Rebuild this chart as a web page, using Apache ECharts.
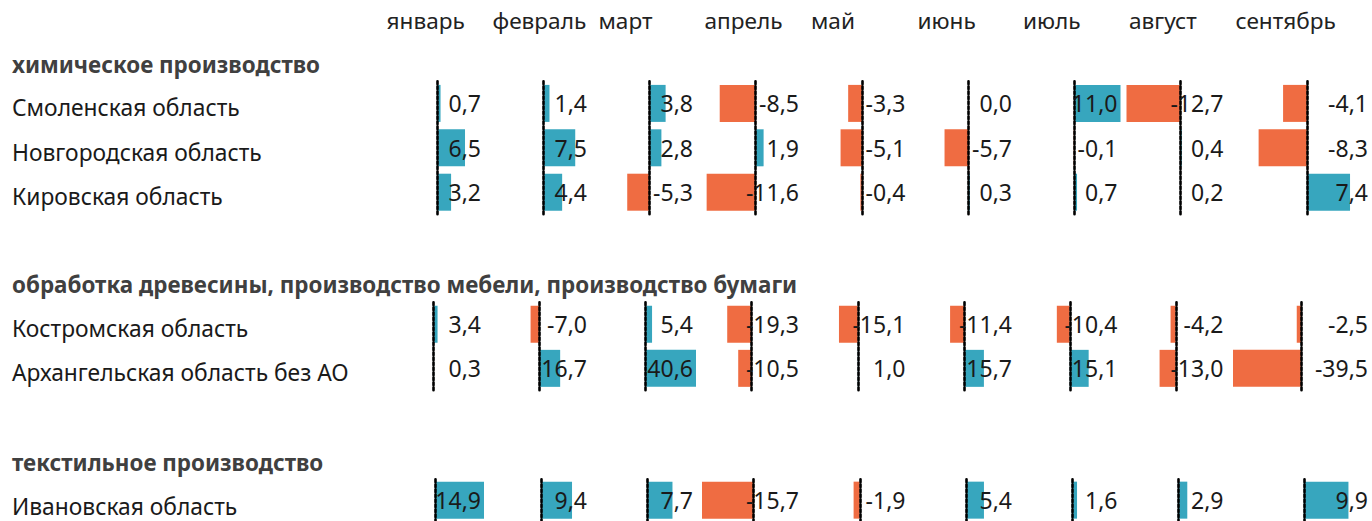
<!DOCTYPE html>
<html><head><meta charset="utf-8">
<script src="https://cdn.jsdelivr.net/npm/echarts@6/dist/echarts.min.js"></script>
<style>html,body{margin:0;padding:0;background:#fff}#c{width:1372px;height:521px}</style>
</head><body><div id="c"></div>
<script>
// ---- data ----
const months = ['январь','февраль','март','апрель','май','июнь','июль','август','сентябрь'];
const groupTitles = ['химическое производство','обработка древесины, производство мебели, производство бумаги','текстильное производство'];
const chemRegions = ['Смоленская область','Новгородская область','Кировская область'];
const woodRegions = ['Костромская область','Архангельская область без АО'];
const textileRegions = ['Ивановская область'];
const smolensk = [0.7, 1.4, 3.8, -8.5, -3.3, 0.0, 11.0, -12.7, -4.1];
const novgorod = [6.5, 7.5, 2.8, 1.9, -5.1, -5.7, -0.1, 0.4, -8.3];
const kirov = [3.2, 4.4, -5.3, -11.6, -0.4, 0.3, 0.7, 0.2, 7.4];
const kostroma = [3.4, -7.0, 5.4, -19.3, -15.1, -11.4, -10.4, -4.2, -2.5];
const arkhangelsk = [0.3, 16.7, 40.6, -10.5, 1.0, 15.7, 15.1, -13.0, -39.5];
const ivanovo = [14.9, 9.4, 7.7, -15.7, -1.9, 5.4, 1.6, 2.9, 9.9];

const groups = [
  {title: groupTitles[0], regions: chemRegions, values: [smolensk, novgorod, kirov]},
  {title: groupTitles[1], regions: woodRegions, values: [kostroma, arkhangelsk]},
  {title: groupTitles[2], regions: textileRegions, values: [ivanovo]}
];

// ---- layout / style ----
const colLeft = [384, 490, 596, 702, 808.5, 915, 1020.5, 1126.5, 1233];
const colWidth = [100, 100, 100, 100, 100, 100, 100, 100, 138];
const groupTop = [81.2, 302.2, 479.3];
const rowHeight = [44.4, 44.1, 44.4];
const headerY = [64.5, 284.5, 462.5];
const colHeaderY = 20.5;
const labelX = 12;
const POS = '#37A6BE', NEG = '#EF6C42';
const FONT = '"Noto Sans", "Open Sans", sans-serif';

const fmt = v => v.toFixed(1).replace('.', ',');

const grid = [], xAxis = [], yAxis = [], series = [], graphic = [];
groups.forEach((g, gi) => {
  const all = g.values.flat();
  const gmin = Math.min(0, ...all), gmax = Math.max(0, ...all);
  months.forEach((m, mi) => {
    const idx = grid.length;
    grid.push({left: colLeft[mi], width: colWidth[mi], top: groupTop[gi], height: rowHeight[gi] * g.regions.length});
    xAxis.push({type: 'value', gridIndex: idx, min: gmin, max: gmax, show: false});
    yAxis.push({type: 'category', gridIndex: idx, data: g.regions, inverse: true, z: 6,
      axisLine: {show: true, onZero: true, lineStyle: {color: '#000', width: 2.6, type: [3, 2]}},
      axisTick: {show: false}, axisLabel: {show: false}, splitLine: {show: false}});
    yAxis.push({type: 'category', gridIndex: idx, data: g.regions, inverse: true, position: 'right', z: 7,
      axisLine: {show: false, onZero: false}, axisTick: {show: false}, splitLine: {show: false},
      axisLabel: {show: true, inside: true, interval: 0, margin: 3, fontSize: 23, color: '#1a1a1a',
        fontFamily: FONT, padding: [5, 0, 0, 0],
        formatter: (val, i) => fmt(g.values[i][mi])}});
    series.push({type: 'bar', xAxisIndex: idx, yAxisIndex: 2 * idx, barWidth: 37, silent: true,
      data: g.values.map(r => r[mi]),
      itemStyle: {color: p => p.value >= 0 ? POS : NEG}});
  });
  graphic.push({type: 'text', x: labelX, y: headerY[gi],
    style: {text: g.title, fontSize: 22.4, fontWeight: 'bold', fontFamily: FONT, fill: '#404040',
      textAlign: 'left', textVerticalAlign: 'middle', align: 'left', verticalAlign: 'middle'}});
  g.regions.forEach((r, ri) => {
    graphic.push({type: 'text', x: labelX, y: groupTop[gi] + rowHeight[gi] * (ri + 0.5) + 4.5,
      style: {text: r, fontSize: 22.8, fontFamily: FONT, fill: '#1a1a1a',
        textAlign: 'left', textVerticalAlign: 'middle', align: 'left', verticalAlign: 'middle'}});
  });
});
months.forEach((m, mi) => {
  graphic.push({type: 'text', x: colLeft[mi] + 2.5, y: colHeaderY,
    style: {text: m, fontSize: 22.6, fontFamily: FONT, fill: '#222',
      textAlign: 'left', textVerticalAlign: 'middle', align: 'left', verticalAlign: 'middle'}});
});

const chart = echarts.init(document.getElementById('c'), null, {renderer: 'svg'});
chart.setOption({animation: false, backgroundColor: '#fff', grid, xAxis, yAxis, series, graphic});
</script>
</body></html>
